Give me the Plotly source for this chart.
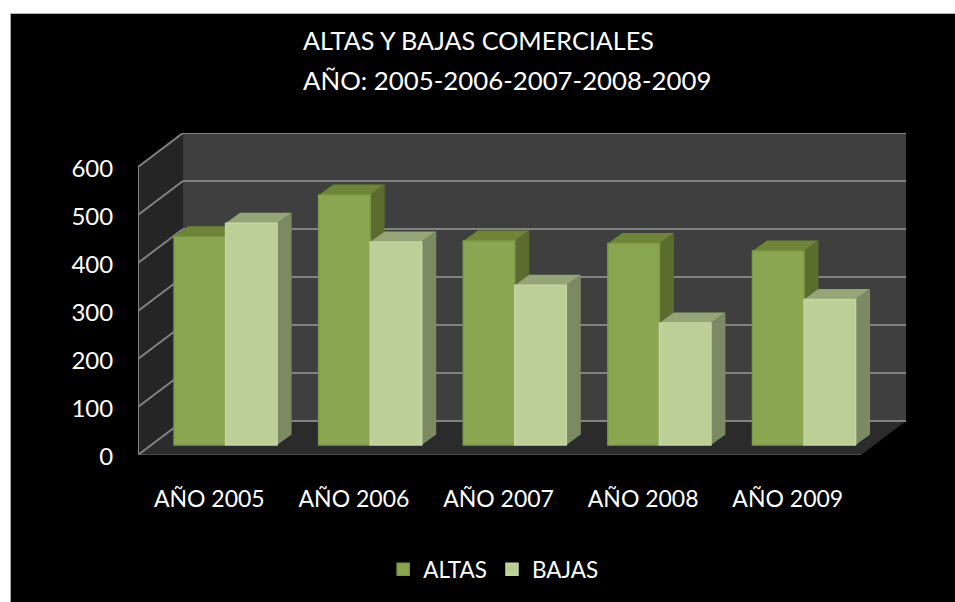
import plotly.graph_objects as go

# ---------- data ----------
categories = ["AÑO 2005", "AÑO 2006", "AÑO 2007", "AÑO 2008", "AÑO 2009"]
altas = [434, 521, 425, 420, 404]
bajas = [462, 423, 333, 254, 303]
y_ticks = [0, 100, 200, 300, 400, 500, 600]
title_lines = ["ALTAS Y BAJAS COMERCIALES", "AÑO: 2005-2006-2007-2008-2009"]

# ---------- oblique-projection geometry ----------
W, H = 955, 602
L_PX, R_PX, T_PX, B_PX = 137.5, 906.5, 133, 455
UNIT_X = 144.8          # pixels per category
UNIT_Y = 0.48           # pixels per value unit
DX = 45 / UNIT_X        # wall depth, in x units
DY = 34 / UNIT_Y        # wall depth, in y units
BAR_W = 51.6 / UNIT_X
BAR_SHIFT = 15.3 / UNIT_X
BASE = 10 / UNIT_Y      # bar front face sits above the axis front edge
SIDE_X = 14.5 / UNIT_X
SIDE_Y = 10.5 / UNIT_Y
X0, X1 = -0.5, 4.5

xs = list(range(len(categories)))


def px(x):
    return (x - L_PX) / (R_PX - L_PX)


def py(y):
    return (B_PX - y) / (B_PX - T_PX)


def poly(points, fill, line=None, width=0):
    path = "M " + " L ".join(f"{x},{y}" for x, y in points) + " Z"
    return dict(type="path", path=path, xref="x", yref="y", layer="below",
                fillcolor=fill, line=dict(color=line or fill, width=width))


def seg(x0, y0, x1, y1, color="#828282", width=2):
    return dict(type="line", x0=x0, y0=y0, x1=x1, y1=y1, xref="x", yref="y",
                layer="below", line=dict(color=color, width=width))


shapes = [
    # black panel on the white page, with its thin grey top edge
    dict(type="rect", xref="paper", yref="paper", layer="below",
         x0=px(10), x1=px(W + 5), y0=py(H + 5), y1=py(13.5),
         fillcolor="#000000", line=dict(color="#000000", width=0)),
    dict(type="line", xref="paper", yref="paper", layer="below",
         x0=px(10), x1=px(W + 5), y0=py(13.5), y1=py(13.5),
         line=dict(color="#b4b4b4", width=1)),
    # back wall, side wall, floor
    poly([(X0 + DX, DY), (X1 + DX, DY), (X1 + DX, 600 + DY), (X0 + DX, 600 + DY)], "#3f3f3f"),
    poly([(X0, 0), (X0 + DX, DY), (X0 + DX, 600 + DY), (X0, 600)], "#252525"),
    poly([(X0, 0), (X1, 0), (X1 + DX, DY), (X0 + DX, DY)], "#2b2b2b"),
]

for t in y_ticks:
    shapes.append(seg(X0, t, X0 + DX, t + DY))
    shapes.append(seg(X0 + DX, t + DY, X1 + DX, t + DY))
shapes.append(seg(X0, 0, X0, 600))
shapes.append(seg(X0, -2, X1, -2, "#6e6e6e", 3))

FACES = {
    "altas": ("#6e8539", "#5a6c2e"),
    "bajas": ("#94a678", "#7b8a63"),
}
for i in xs:
    for offset, val, key in ((-BAR_W, altas[i], "altas"), (0, bajas[i], "bajas")):
        left = i + BAR_SHIFT + offset
        right = left + BAR_W
        top_y = BASE + val
        top_c, side_c = FACES[key]
        shapes.append(poly([(left, top_y), (right, top_y),
                            (right + SIDE_X, top_y + SIDE_Y), (left + SIDE_X, top_y + SIDE_Y)], top_c))
        shapes.append(poly([(right, BASE), (right + SIDE_X, BASE + SIDE_Y),
                            (right + SIDE_X, top_y + SIDE_Y), (right, top_y)], side_c))

fig = go.Figure()
for name, vals, color, edge, off in (
    ("ALTAS", altas, "#8ba651", "#7f9a48", -BAR_W),
    ("BAJAS", bajas, "#bbcf97", "#c3d5a0", 0.0),
):
    fig.add_trace(go.Bar(
        x=xs, y=vals, name=name, base=BASE, width=BAR_W,
        offset=BAR_SHIFT + off,
        marker=dict(color=color, line=dict(color=edge, width=1.5)),
    ))

FONT = "Lato, 'Open Sans', sans-serif"
fig.update_layout(
    width=W, height=H, autosize=False,
    paper_bgcolor="#ffffff", plot_bgcolor="rgba(0,0,0,0)",
    margin=dict(l=L_PX, r=W - R_PX, t=T_PX, b=H - B_PX, pad=0, autoexpand=False),
    barmode="overlay", showlegend=True,
    font=dict(family=FONT, color="#ffffff"),
    title=dict(
        text=title_lines[0],
        x=303 / W, xref="container", xanchor="left",
        y=1 - 41 / H, yref="container", yanchor="middle",
        font=dict(size=25.2, color="#ffffff", family=FONT),
    ),
    annotations=[dict(
        text=title_lines[1], xref="paper", yref="paper", showarrow=False,
        x=px(301), y=py(80), xanchor="left", yanchor="middle",
        font=dict(size=25.8, color="#ffffff", family=FONT),
    )],
    legend=dict(
        orientation="h", x=px(383), xanchor="left",
        y=py(548), yanchor="top",
        bgcolor="rgba(0,0,0,0)", font=dict(size=22.5, color="#ffffff"),
        itemclick=False, itemdoubleclick=False,
    ),
    xaxis=dict(
        range=[X0, X1 + DX], tickmode="array", tickvals=xs, ticktext=categories,
        showgrid=False, zeroline=False, showline=False,
        ticks="outside", ticklen=23, tickcolor="rgba(0,0,0,0)", ticklabelshift=-1,
        tickfont=dict(size=23, color="#ffffff", family=FONT), tickangle=0,
    ),
    yaxis=dict(
        range=[0, 600 + DY], tickmode="array", tickvals=y_ticks,
        showgrid=False, zeroline=False, showline=False,
        ticks="outside", ticklen=19, tickcolor="rgba(0,0,0,0)", ticklabelshift=2,
        tickfont=dict(size=24, color="#ffffff", family=FONT),
    ),
    shapes=shapes,
)

fig.write_html("out.html", config={"displayModeBar": False},
               post_script="document.body.style.margin='0';document.body.style.overflow='hidden';")
